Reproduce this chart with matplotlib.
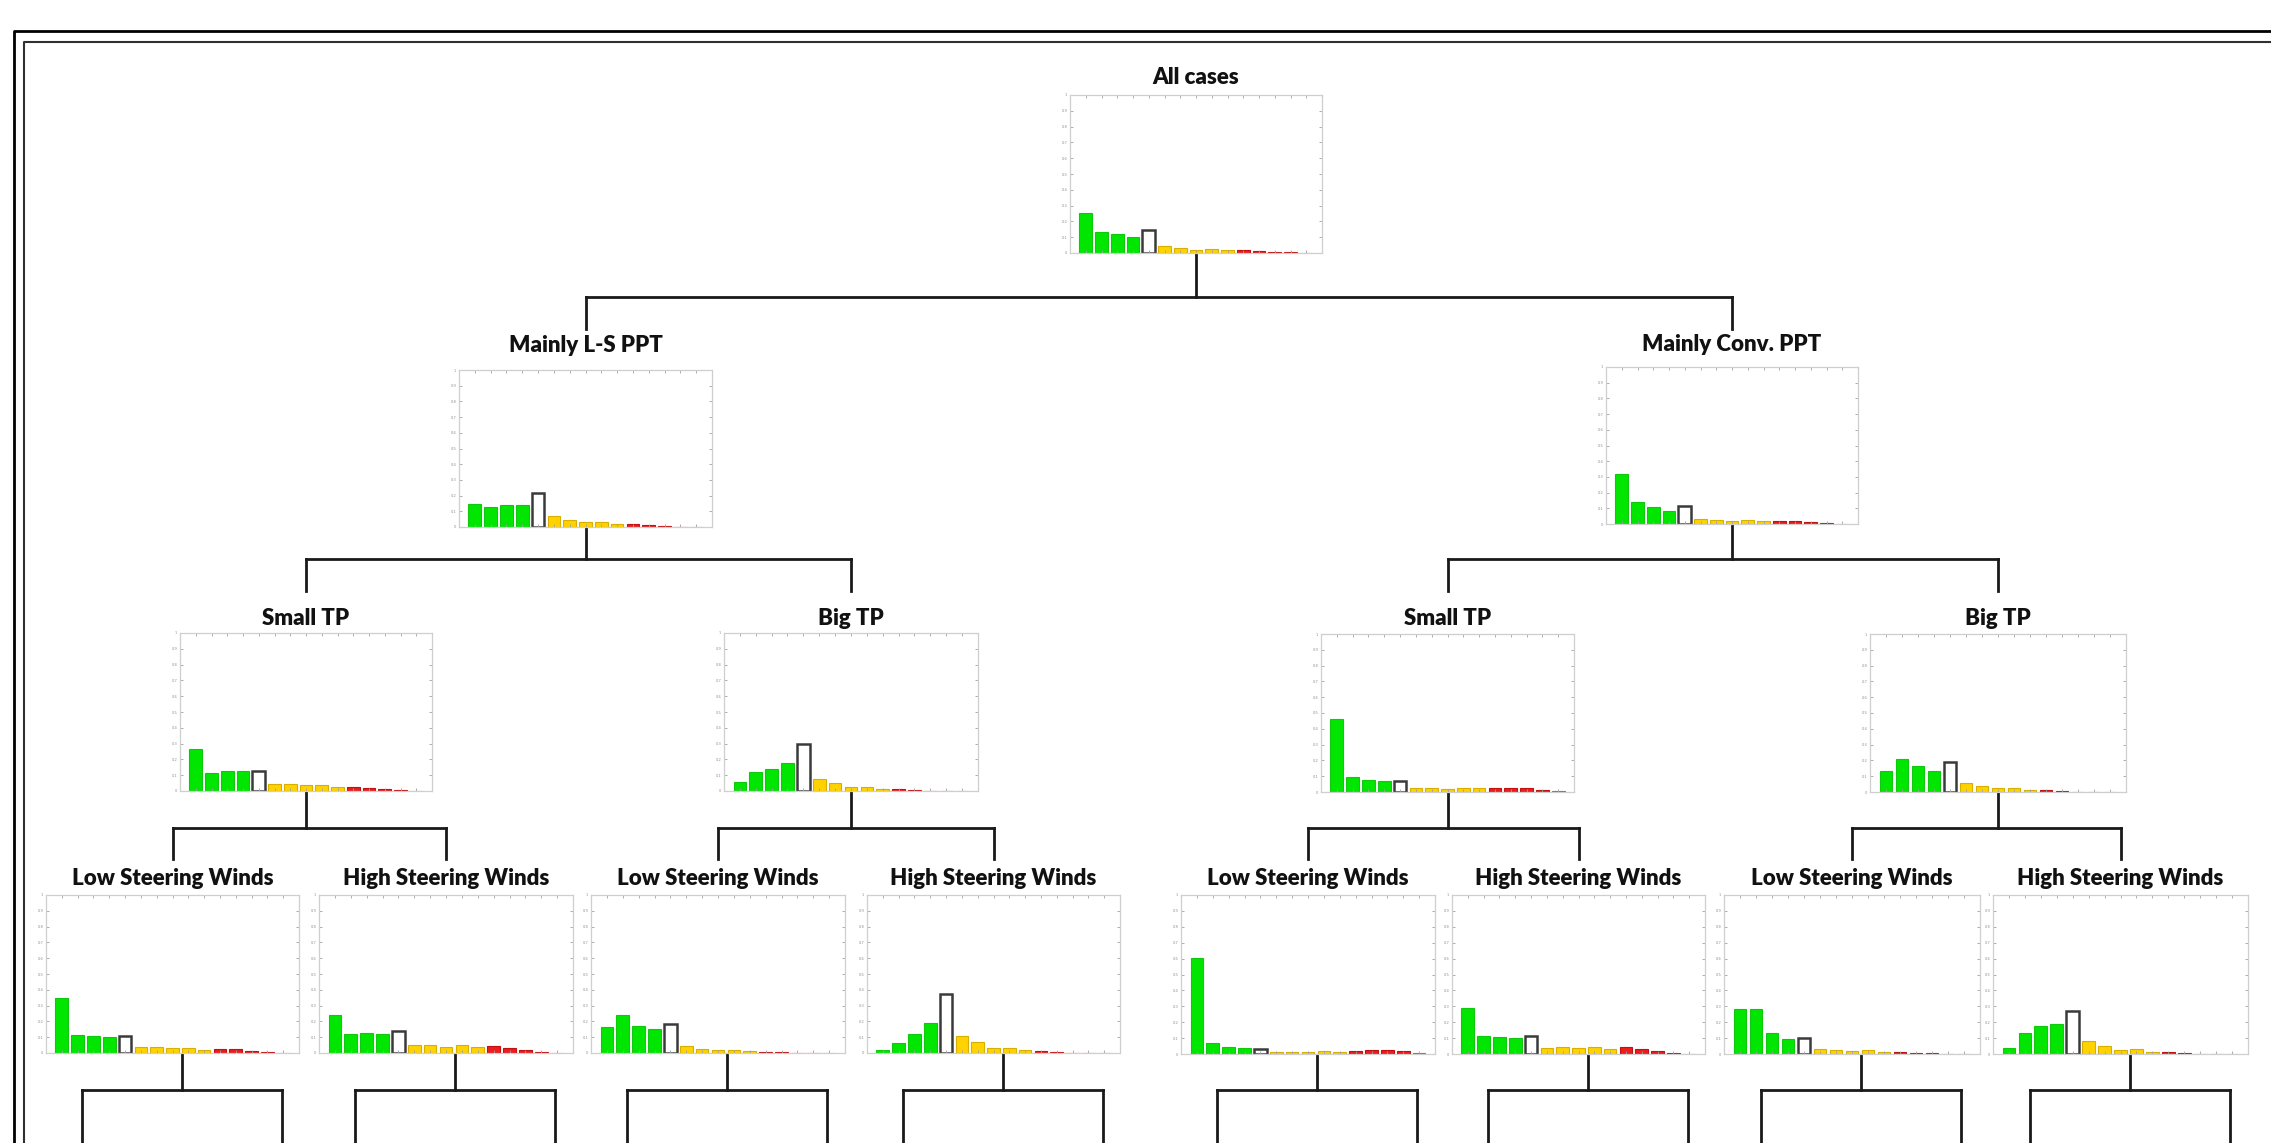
import matplotlib
matplotlib.use("Agg")
import matplotlib.pyplot as plt
from matplotlib.lines import Line2D

# ---------------- data ----------------
bins = list(range(1, 16))
ytick_values = [0, 0.1, 0.2, 0.3, 0.4, 0.5, 0.6, 0.7, 0.8, 0.9, 1.0]
ytick_labels = ["0", "0.1", "0.2", "0.3", "0.4", "0.5", "0.6", "0.7", "0.8", "0.9", "1"]

all_cases = [0.256, 0.133, 0.118, 0.100, 0.148, 0.042, 0.030, 0.021, 0.027, 0.017, 0.017, 0.013, 0.008, 0.006, 0.002]
ls_ppt = [0.148, 0.127, 0.140, 0.140, 0.218, 0.068, 0.047, 0.032, 0.034, 0.019, 0.019, 0.013, 0.008, 0.0, 0.0]
conv_ppt = [0.318, 0.142, 0.108, 0.083, 0.113, 0.034, 0.025, 0.019, 0.028, 0.017, 0.019, 0.017, 0.013, 0.008, 0.002]
ls_small_tp = [0.266, 0.116, 0.127, 0.127, 0.129, 0.042, 0.047, 0.036, 0.036, 0.025, 0.027, 0.019, 0.015, 0.006, 0.0]
ls_big_tp = [0.059, 0.123, 0.140, 0.175, 0.298, 0.078, 0.049, 0.025, 0.025, 0.015, 0.011, 0.006, 0.0, 0.0, 0.0]
conv_small_tp = [0.463, 0.093, 0.078, 0.069, 0.067, 0.023, 0.023, 0.021, 0.027, 0.023, 0.027, 0.027, 0.025, 0.015, 0.006]
conv_big_tp = [0.136, 0.209, 0.163, 0.136, 0.188, 0.056, 0.036, 0.023, 0.027, 0.015, 0.015, 0.008, 0.0, 0.0, 0.0]
ls_small_low = [0.349, 0.114, 0.106, 0.101, 0.110, 0.036, 0.036, 0.030, 0.032, 0.021, 0.025, 0.023, 0.015, 0.006, 0.0]
ls_small_high = [0.240, 0.118, 0.129, 0.122, 0.139, 0.053, 0.053, 0.040, 0.053, 0.036, 0.044, 0.032, 0.019, 0.006, 0.0]
ls_big_low = [0.167, 0.243, 0.171, 0.150, 0.186, 0.046, 0.027, 0.019, 0.019, 0.013, 0.006, 0.006, 0.0, 0.0, 0.0]
ls_big_high = [0.017, 0.061, 0.118, 0.192, 0.373, 0.108, 0.068, 0.034, 0.034, 0.019, 0.015, 0.006, 0.0, 0.0, 0.0]
conv_small_low = [0.606, 0.069, 0.046, 0.038, 0.029, 0.013, 0.015, 0.013, 0.019, 0.015, 0.021, 0.025, 0.025, 0.021, 0.006]
conv_small_high = [0.290, 0.115, 0.107, 0.100, 0.115, 0.038, 0.044, 0.038, 0.046, 0.033, 0.042, 0.031, 0.017, 0.004, 0.0]
conv_big_low = [0.280, 0.280, 0.134, 0.092, 0.103, 0.031, 0.025, 0.017, 0.025, 0.015, 0.015, 0.008, 0.004, 0.0, 0.0]
conv_big_high = [0.036, 0.134, 0.176, 0.190, 0.268, 0.080, 0.048, 0.027, 0.029, 0.015, 0.013, 0.004, 0.0, 0.0, 0.0]

titles = {
    "root": "All cases",
    "ls": "Mainly L-S PPT",
    "conv": "Mainly Conv. PPT",
    "small": "Small TP",
    "big": "Big TP",
    "low": "Low Steering Winds",
    "high": "High Steering Winds",
}

# ---------------- styles ----------------
face_colors = ["#00E600"] * 4 + ["#FFFFFF"] + ["#FFD200"] * 5 + ["#EE1C1C"] * 4 + ["#C88080"]
edge_colors = ["#10C810"] * 4 + ["#3A3A3A"] + ["#D8AE00"] * 5 + ["#C01010"] * 4 + ["#A06060"]
edge_widths = [0.8] * 4 + [1.8] + [0.8] * 10

W, H = 2271, 1143
fig = plt.figure(figsize=(W / 100, H / 100), dpi=100)
fig.patch.set_facecolor("white")

# overlay for connectors / frame (pixel coordinates)
ov = fig.add_axes([0, 0, 1, 1])
ov.set_xlim(0, W)
ov.set_ylim(H, 0)
ov.axis("off")

TITLE_FONT = dict(family=["Lato", "DejaVu Sans"], weight="heavy", size=16, color="#111111")


def add_panel(box, values, title, baseline):
    l, t, r, b = box
    ax = fig.add_axes([l / W, 1 - b / H, (r - l) / W, (b - t) / H])
    ax.bar(bins, values, width=0.8, color=face_colors, edgecolor=edge_colors,
           linewidth=edge_widths, zorder=1)
    ax.set_xlim(0, 16)
    ax.set_ylim(0, 1)
    ax.set_xticks(range(0, 17))
    ax.set_xticklabels([])
    ax.set_yticks(ytick_values)
    ax.set_yticklabels(ytick_labels)
    ax.tick_params(axis="both", direction="in", length=2.2, width=0.6, color="#A0A0A0",
                   top=True, right=True, labelsize=2.6, labelcolor="#909090", pad=2)
    for s in ax.spines.values():
        s.set_color("#CFCFCF")
        s.set_linewidth(0.9)
    ov.text((l + r) / 2, baseline, title, ha="center", va="baseline", **TITLE_FONT)
    return ax


# panel boxes: (left, top, right, bottom) in pixels
panels = [
    ((1070, 95, 1322, 253), all_cases, titles["root"], 84),
    ((459, 370, 712, 527), ls_ppt, titles["ls"], 352),
    ((1606, 367, 1858, 524), conv_ppt, titles["conv"], 351),
    ((180, 633, 432, 791), ls_small_tp, titles["small"], 625),
    ((724, 633, 978, 791), ls_big_tp, titles["big"], 625),
    ((1321, 634, 1574, 792), conv_small_tp, titles["small"], 625),
    ((1870, 634, 2126, 792), conv_big_tp, titles["big"], 625),
    ((46, 895, 299, 1053), ls_small_low, titles["low"], 885),
    ((319, 895, 573, 1053), ls_small_high, titles["high"], 885),
    ((591, 895, 845, 1053), ls_big_low, titles["low"], 885),
    ((867, 895, 1120, 1053), ls_big_high, titles["high"], 885),
    ((1181, 895, 1435, 1054), conv_small_low, titles["low"], 885),
    ((1452, 895, 1705, 1054), conv_small_high, titles["high"], 885),
    ((1724, 895, 1980, 1054), conv_big_low, titles["low"], 885),
    ((1993, 895, 2248, 1054), conv_big_high, titles["high"], 885),
]

for box, vals, title, base in panels:
    add_panel(box, vals, title, base)

LC = "#1a1a1a"
LW = 2.0


def seg(x0, y0, x1, y1, lw=LW, color=LC):
    ov.add_line(Line2D([x0, x1], [y0, y1], color=color, linewidth=lw,
                       solid_capstyle="projecting"))


def cx(box):
    return (box[0] + box[2]) / 2


def bracket(parent_box, child_boxes, y_mid, y_end):
    px = cx(parent_box)
    seg(px, parent_box[3] + 1, px, y_mid)
    xs = [cx(c) for c in child_boxes]
    seg(min(xs), y_mid, max(xs), y_mid)
    for x in xs:
        seg(x, y_mid, x, y_end)


boxes = [p[0] for p in panels]
bracket(boxes[0], [boxes[1], boxes[2]], 297, 329)
bracket(boxes[1], [boxes[3], boxes[4]], 559, 591)
bracket(boxes[2], [boxes[5], boxes[6]], 559, 591)
bracket(boxes[3], [boxes[7], boxes[8]], 828, 859)
bracket(boxes[4], [boxes[9], boxes[10]], 828, 859)
bracket(boxes[5], [boxes[11], boxes[12]], 828, 859)
bracket(boxes[6], [boxes[13], boxes[14]], 828, 859)

# leaf brackets below level-3 panels
for b in boxes[7:]:
    x = cx(b) + 9
    seg(x, b[3] + 1, x, 1090)
    seg(x - 100, 1090, x + 100, 1090)
    seg(x - 100, 1090, x - 100, 1150)
    seg(x + 100, 1090, x + 100, 1150)

# double frame (left and top edges)
ov.add_line(Line2D([14, 14, W + 5], [H + 5, 30.5, 30.5], color="#000000", linewidth=2.0))
ov.add_line(Line2D([24.3, 24.3, W + 5], [H + 5, 41.7, 41.7], color="#303030", linewidth=1.5))

fig.savefig("out.png", dpi=100, facecolor="white")
